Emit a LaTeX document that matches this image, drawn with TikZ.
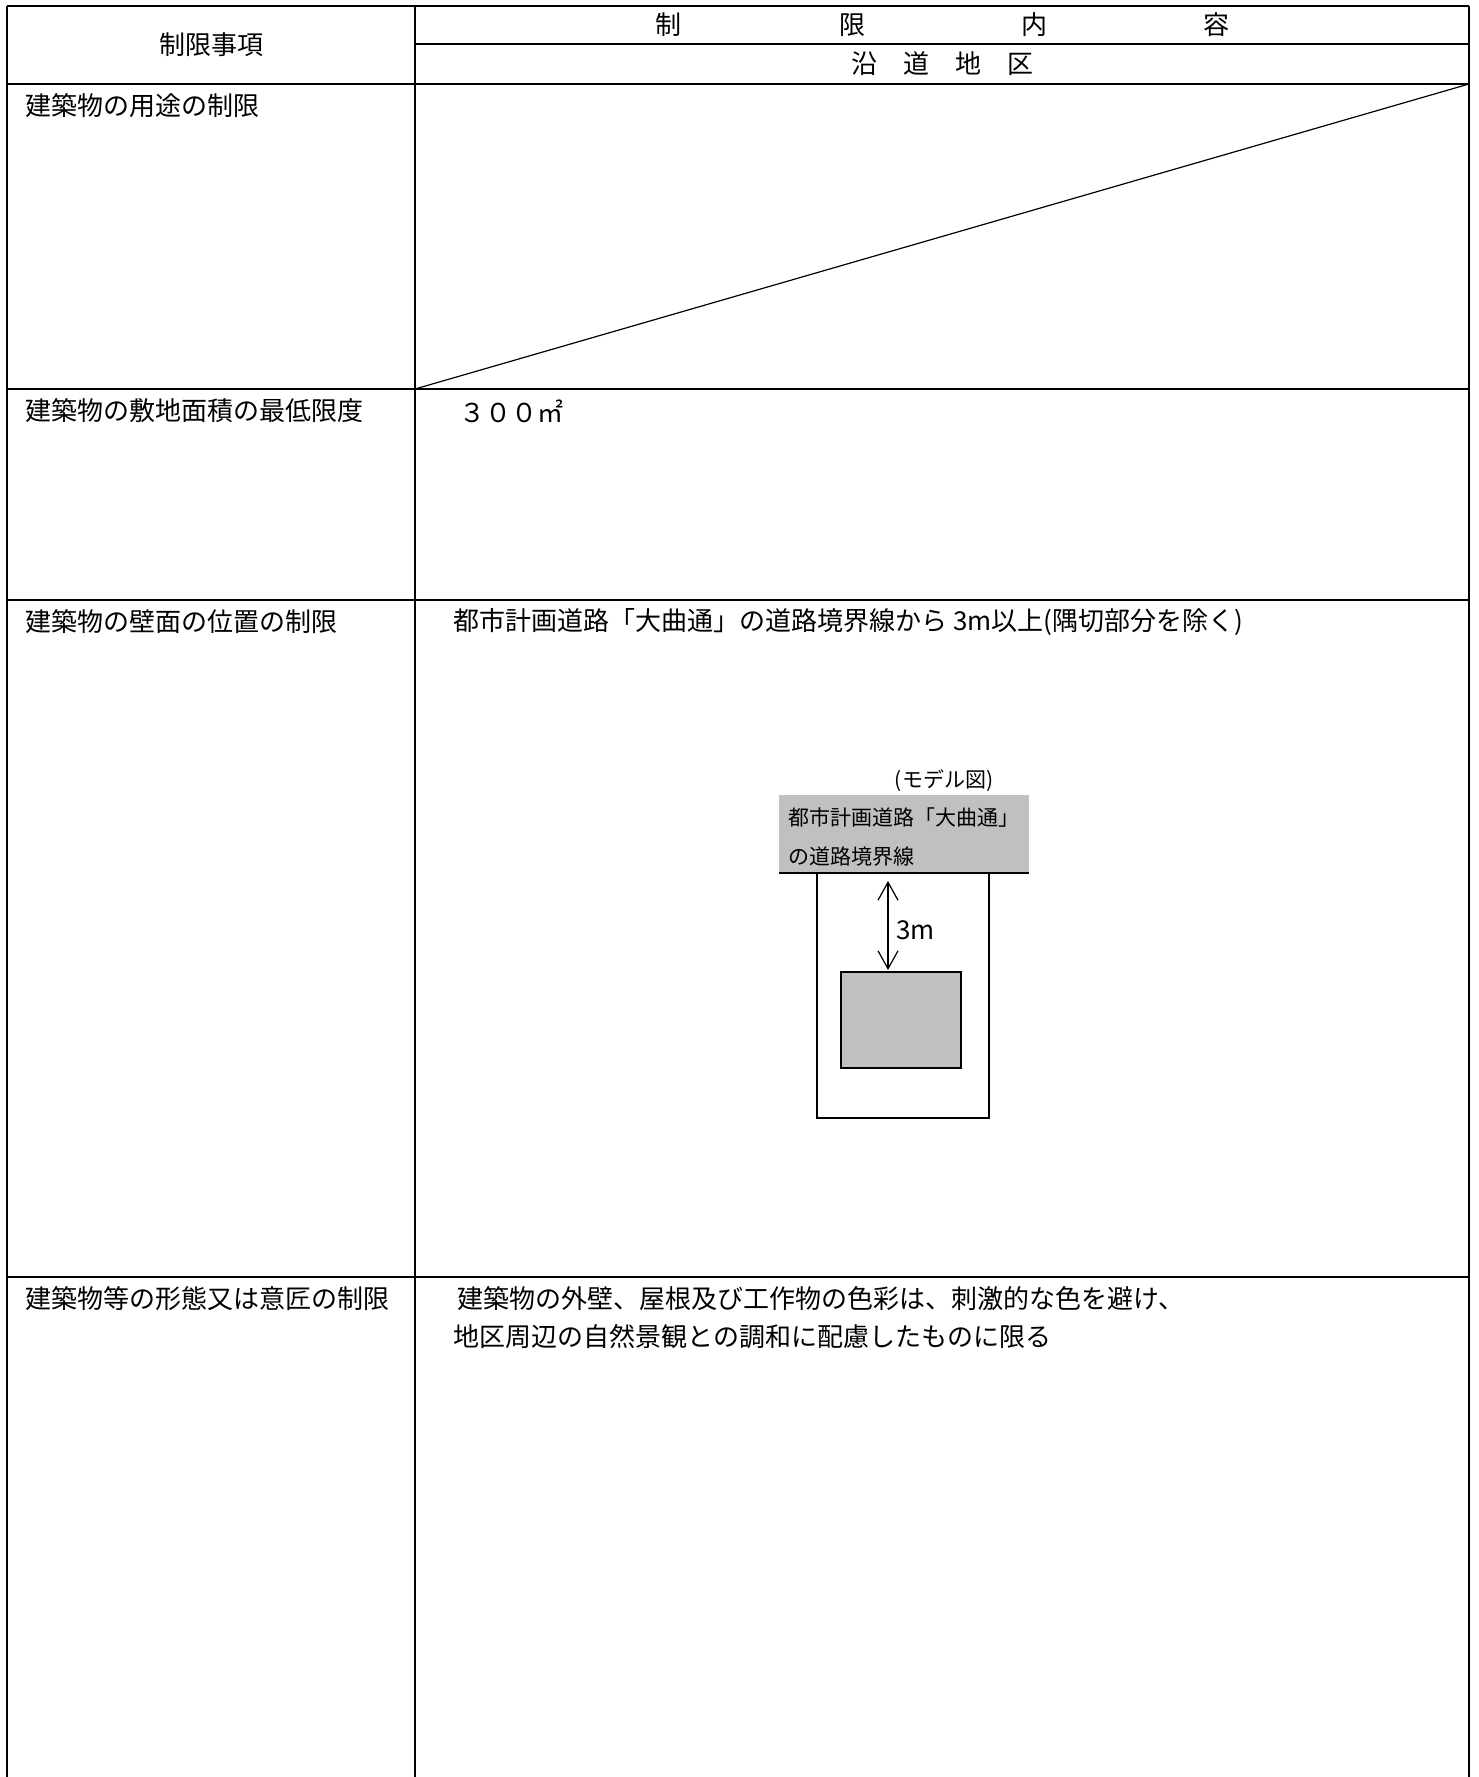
\documentclass[tikz,border=0pt]{standalone}
\usepackage{fontspec}
\setmainfont{Noto Sans CJK JP}
\usetikzlibrary{arrows.meta}
\definecolor{boxgray}{HTML}{C0C0C0}
\begin{document}
\begin{tikzpicture}[x=0.5pt,y=-0.5pt,
  tline/.style={line width=1.4pt},
  fline/.style={line width=0.6pt},
  lbl/.style={anchor=west,inner sep=0pt,font=\fontsize{13pt}{16pt}\selectfont},
  ctr/.style={inner sep=0pt,font=\fontsize{13pt}{16pt}\selectfont},
  smalltxt/.style={anchor=west,inner sep=0pt,font=\fontsize{10.5pt}{13pt}\selectfont},
]
\useasboundingbox (0,0) rectangle (1478,1777);
% table grid
\coordinate (tl) at (7,6);
\coordinate (tr) at (1469,6);
\coordinate (bl) at (7,1777);
\coordinate (br) at (1469,1777);
\coordinate (dt) at (415,6);
\coordinate (db) at (415,1777);
\draw[tline] (tl) -- (tr);
\draw[tline] (tl) -- (bl);
\draw[tline] (tr) -- (br);
\draw[tline] (dt) -- (db);
\coordinate (h1a) at (415,44); \coordinate (h1b) at (1469,44);
\draw[tline] (h1a) -- (h1b);
\foreach \yy/\nm in {84/r0,389/r1,600/r2,1277/r3}{
  \coordinate (\nm a) at (7,\yy);
  \coordinate (\nm b) at (1469,\yy);
  \draw[tline] (\nm a) -- (\nm b);
}
% diagonal
\coordinate (diagA) at (415,389);
\coordinate (diagB) at (1469,84);
\draw[fline] (diagA) -- (diagB);
% header
\node[ctr] (hdr) at (211,45) {制限事項};
\node[ctr] (hc1) at (668,25) {制};
\node[ctr] (hc2) at (852,25) {限};
\node[ctr] (hc3) at (1034,25) {内};
\node[ctr] (hc4) at (1216,25) {容};
\node[ctr] (hsub) at (942,64) {沿　道　地　区};
% row labels
\node[lbl] (l1) at (25,106) {建築物の用途の制限};
\node[lbl] (l2) at (25,411) {建築物の敷地面積の最低限度};
\node[lbl] (l3) at (25,622) {建築物の壁面の位置の制限};
\node[lbl] (l4) at (25,1299) {建築物等の形態又は意匠の制限};
% contents
\node[lbl] (c2) at (459,411) {３００㎡};
\node[lbl] (c3) at (453,622) {都市計画道路「大曲通」の道路境界線から 3m以上(隅切部分を除く)};
\node[lbl] (c4a) at (457,1299) {建築物の外壁、屋根及び工作物の色彩は、刺激的な色を避け、};
\node[lbl] (c4b) at (453,1337) {地区周辺の自然景観との調和に配慮したものに限る};
% model figure
\node[inner sep=0pt,font=\fontsize{10.5pt}{13pt}\selectfont] (mtitle) at (944,781) {(モデル図)};
\coordinate (roadTL) at (779,795);
\coordinate (roadBR) at (1029,873);
\coordinate (roadBL) at (779,873);
\fill[boxgray] (roadTL) rectangle (roadBR);
\draw[fline] (roadBL) -- (roadBR);
\node[smalltxt] (rt1) at (788,818) {都市計画道路「大曲通」};
\node[smalltxt] (rt2) at (788,857) {の道路境界線};
\coordinate (lotTL) at (817,873);
\coordinate (lotBR) at (989,1118);
\draw[fline] (lotTL) rectangle (lotBR);
\coordinate (bldTL) at (841,972);
\coordinate (bldBR) at (961,1068);
\draw[fline,fill=boxgray] (bldTL) rectangle (bldBR);
\coordinate (arT) at (888,881);
\coordinate (arB) at (888,970);
\draw[fline,{Straight Barb[length=9pt,width=10pt]}-{Straight Barb[length=9pt,width=10pt]}] (arT) -- (arB);
\node[lbl] (m3) at (896,930) {3m};
\end{tikzpicture}
\end{document}
